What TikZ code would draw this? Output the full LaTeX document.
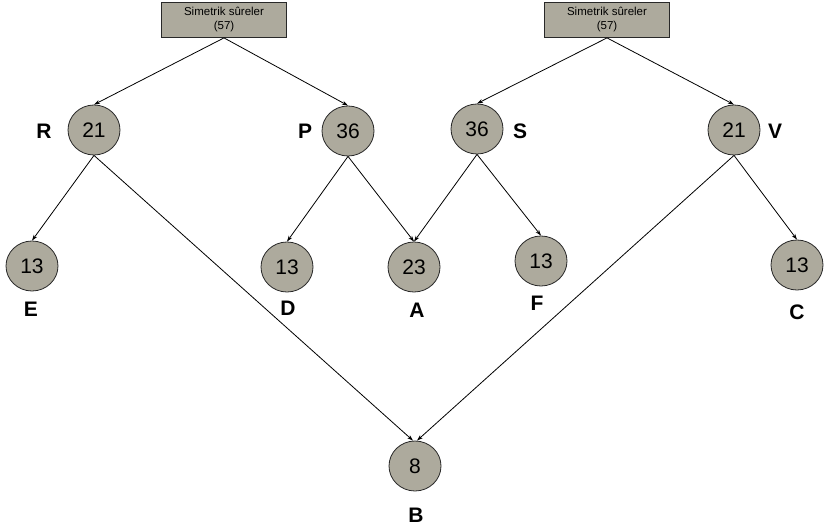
\documentclass[tikz,border=0pt]{standalone}
\usepackage{fontspec}
\setmainfont{Liberation Sans}
\usetikzlibrary{shapes.geometric,arrows.meta}
\definecolor{nodefill}{RGB}{173,170,157}
\definecolor{edgegray}{RGB}{40,40,40}
\begin{document}
\begin{tikzpicture}[x=1pt,y=-1pt,
  circ/.style={ellipse,draw=edgegray,line width=0.8pt,fill=nodefill,minimum width=52pt,minimum height=50pt,inner sep=0pt,font=\fontsize{21}{21}\selectfont},
  topbox/.style={rectangle,draw=edgegray,line width=0.8pt,fill=nodefill,minimum width=125pt,minimum height=35pt,inner sep=0pt,align=center,font=\fontsize{11.5}{14}\selectfont},
  lab/.style={font=\fontsize{21}{21}\selectfont\bfseries},
  conn/.style={-{Stealth[length=6pt,width=4pt]},line width=0.8pt}]
\useasboundingbox (0,0) rectangle (826,529);
\node[topbox] (b1) at (224,20) {Simetrik sûreler\\(57)};
\node[topbox] (b2) at (607,20) {Simetrik sûreler\\(57)};
\node[circ] (R) at (94,130) {21};
\node[circ] (P) at (348,131) {36};
\node[circ] (S) at (477,129) {36};
\node[circ] (V) at (734,130) {21};
\node[circ] (E) at (32,266) {13};
\node[circ] (D) at (287,267) {13};
\node[circ] (A) at (414,267) {23};
\node[circ] (F) at (541,261) {13};
\node[circ] (C) at (797,265) {13};
\node[circ] (B) at (415,466) {8};
\node[lab] (lR) at (44,131) {R};
\node[lab] (lP) at (305,131) {P};
\node[lab] (lS) at (520,131) {S};
\node[lab] (lV) at (775,131) {V};
\node[lab] (lE) at (31,309) {E};
\node[lab] (lD) at (288,308) {D};
\node[lab] (lA) at (417,310) {A};
\node[lab] (lF) at (537,303) {F};
\node[lab] (lC) at (797,312) {C};
\node[lab] (lB) at (416,515) {B};
\draw[conn] (b1.south) -- (R.north);
\draw[conn] (b1.south) -- (P.north);
\draw[conn] (b2.south) -- (S.north);
\draw[conn] (b2.south) -- (V.north);
\draw[conn] (R.south) -- (E.north);
\draw[conn] (R.south) -- ([xshift=-2pt]B.north);
\draw[conn] (P.south) -- (D.north);
\draw[conn] (P.south) -- (A.north);
\draw[conn] (S.south) -- (A.north);
\draw[conn] (S.south) -- (F.north);
\draw[conn] (V.south) -- (C.north);
\draw[conn] (V.south) -- ([xshift=2pt]B.north);
\end{tikzpicture}
\end{document}
